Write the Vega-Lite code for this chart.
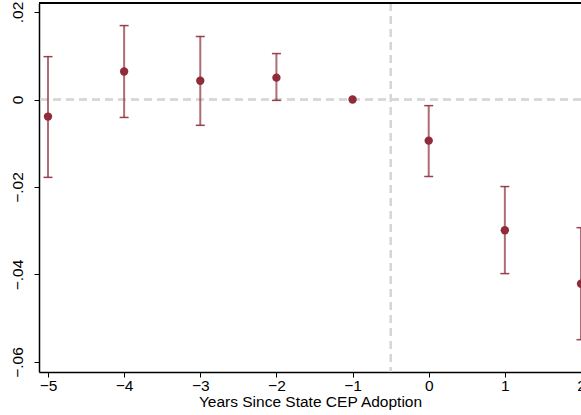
{
  "$schema": "https://vega.github.io/schema/vega-lite/v6.json",
  "autosize": "none",
  "width": 542,
  "height": 369,
  "padding": {"left": 39, "top": 3, "right": 0, "bottom": 43},
  "background": "white",
  "config": {
    "view": {"stroke": null},
    "font": "Liberation Sans",
    "axis": {"labelFont": "Liberation Sans", "titleFont": "Liberation Sans", "labelColor": "#000", "titleColor": "#000", "domainColor": "#000", "tickColor": "#000", "grid": false, "titleFontWeight": "normal"}
  },
  "data": {"values": [
    {"t": -5, "b": -0.0039, "lo": -0.0178, "hi": 0.0098},
    {"t": -4, "b": 0.0064, "lo": -0.0041, "hi": 0.0169},
    {"t": -3, "b": 0.0043, "lo": -0.0059, "hi": 0.0144},
    {"t": -2, "b": 0.0050, "lo": -0.0002, "hi": 0.0105},
    {"t": -1, "b": 0.0, "lo": null, "hi": null},
    {"t": 0, "b": -0.0094, "lo": -0.0176, "hi": -0.0014},
    {"t": 1, "b": -0.0299, "lo": -0.0398, "hi": -0.0199},
    {"t": 2, "b": -0.0421, "lo": -0.0549, "hi": -0.0293}
  ]},
  "encoding": {
    "x": {"field": "t", "type": "quantitative",
      "scale": {"domain": [-5.118, 2.0], "nice": false, "zero": false},
      "axis": {"values": [-5, -4, -3, -2, -1, 0, 1, 2], "format": "d", "title": "Years Since State CEP Adoption", "labelFontSize": 15.5, "titleFontSize": 15.5, "tickSize": 5, "labelPadding": 1, "titlePadding": 1, "domainWidth": 1.5, "labelFlush": false}}
  },
  "layer": [
    {"mark": {"type": "rule", "color": "#d6d6d6", "strokeDash": [8, 5], "strokeWidth": 1.5},
     "encoding": {"y": {"datum": 0, "type": "quantitative"}, "x": null}},
    {"mark": {"type": "rule", "color": "#d6d6d6", "strokeDash": [8, 5], "strokeWidth": 1.5},
     "encoding": {"x": {"datum": -0.5, "type": "quantitative"}}},
    {"mark": {"type": "rule", "color": "#000", "strokeWidth": 1.5},
     "encoding": {"y": {"datum": 0.02206, "type": "quantitative"}, "x": null}},
    {"transform": [{"filter": "datum.lo != null"}],
     "mark": {"type": "rule", "color": "#8f2c3a", "opacity": 0.7, "strokeWidth": 2},
     "encoding": {"y": {"field": "lo", "type": "quantitative"}, "y2": {"field": "hi"}}},
    {"transform": [{"filter": "datum.lo != null"}],
     "mark": {"type": "tick", "orient": "horizontal", "color": "#8f2c3a", "size": 9, "thickness": 1.5, "opacity": 0.9},
     "encoding": {"y": {"field": "lo", "type": "quantitative"}}},
    {"transform": [{"filter": "datum.lo != null"}],
     "mark": {"type": "tick", "orient": "horizontal", "color": "#8f2c3a", "size": 9, "thickness": 1.5, "opacity": 0.9},
     "encoding": {"y": {"field": "hi", "type": "quantitative"}}},
    {"mark": {"type": "point", "filled": true, "color": "#8f2c3a", "opacity": 1, "size": 70},
     "encoding": {"y": {"field": "b", "type": "quantitative",
       "scale": {"domain": [-0.06229, 0.02206], "nice": false, "zero": false},
       "axis": {"values": [-0.06, -0.04, -0.02, 0, 0.02], "title": null, "labelFontSize": 15.5, "labelAngle": -90, "labelAlign": "center", "labelBaseline": "bottom", "labelPadding": 9, "tickSize": 5, "domainWidth": 1.5,
         "labelExpr": "datum.value == 0 ? '0' : replace(format(datum.value, '.2f'), '0.', '.')"}}}}
  ]
}
